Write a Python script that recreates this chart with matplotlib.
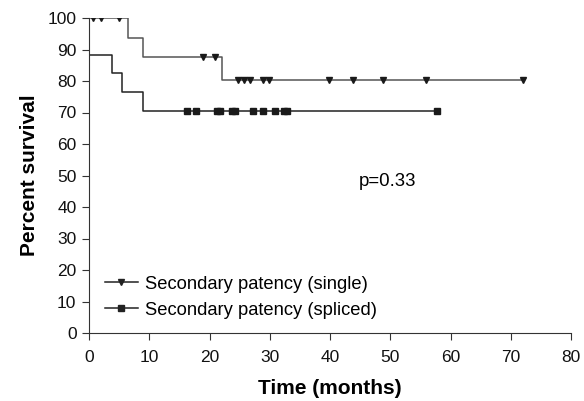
import matplotlib
matplotlib.use('Agg')
import matplotlib.pyplot as plt

plt.rcParams['font.family'] = ['Liberation Sans', 'DejaVu Sans']

# Kaplan-Meier step data (months, percent)
single_t = [0, 6.4, 9, 22, 72]
single_s = [100, 93.75, 87.5, 80.2, 80.2]
single_cens_t = [0.7, 2.0, 5.0, 18.9, 20.9, 24.8, 25.8, 26.8, 28.9, 29.9,
                 39.9, 43.9, 48.8, 55.9, 72]
single_cens_s = [100, 100, 100, 87.5, 87.5, 80.2, 80.2, 80.2, 80.2, 80.2,
                 80.2, 80.2, 80.2, 80.2, 80.2]

spliced_t = [0, 3.9, 5.4, 9, 57.8]
spliced_s = [88.2, 82.4, 76.5, 70.6, 70.6]
spliced_cens_t = [16.3, 17.8, 21.2, 21.8, 23.8, 24.3, 27.3, 28.8, 30.8,
                  32.3, 32.8, 57.8]
spliced_cens_s = [70.6] * len(spliced_cens_t)

fig = plt.figure(figsize=(5.84, 4.01), dpi=100)
ax = fig.add_axes([89 / 584, 1 - 333 / 401, (571 - 89) / 584, (333 - 18) / 401])

ax.step(single_t, single_s, where='post', color='#555555', lw=1.1)
ax.plot(single_cens_t, single_cens_s, 'v', color='#1a1a1a', ms=5, ls='none')
ax.step(spliced_t, spliced_s, where='post', color='#222222', lw=1.1)
ax.plot(spliced_cens_t, spliced_cens_s, 's', color='#1a1a1a', ms=4.6, ls='none')

# legend handles
ax.plot([], [], color='#222222', lw=1.1, marker='v', ms=5, label='Secondary patency (single)')
ax.plot([], [], color='#222222', lw=1.1, marker='s', ms=4.6, label='Secondary patency (spliced)')
ax.legend(loc='lower left', bbox_to_anchor=(0.033, 0.045), frameon=False,
          fontsize=13.2, handlelength=1.8, handletextpad=0.38, labelspacing=0.5,
          borderaxespad=0, borderpad=0)

ax.text(49.5, 48, 'p=0.33', fontsize=13.4, ha='center', va='center')

ax.set_xlim(0, 80)
ax.set_ylim(0, 100)
ax.set_xticks(range(0, 81, 10))
ax.set_yticks(range(0, 101, 10))
ax.spines['top'].set_visible(False)
ax.spines['right'].set_visible(False)
for s in ['left', 'bottom']:
    ax.spines[s].set_color('#333333')
ax.tick_params(direction='out', length=5, labelsize=12.5, colors='#333333',
               labelcolor='#111111', pad=4)
ax.tick_params(axis='x', pad=7)
ax.set_xlabel('Time (months)', fontsize=15, fontweight='bold', labelpad=10)
ax.set_ylabel('Percent survival', fontsize=15, fontweight='bold', labelpad=6)

fig.savefig('out.png', dpi=100)
